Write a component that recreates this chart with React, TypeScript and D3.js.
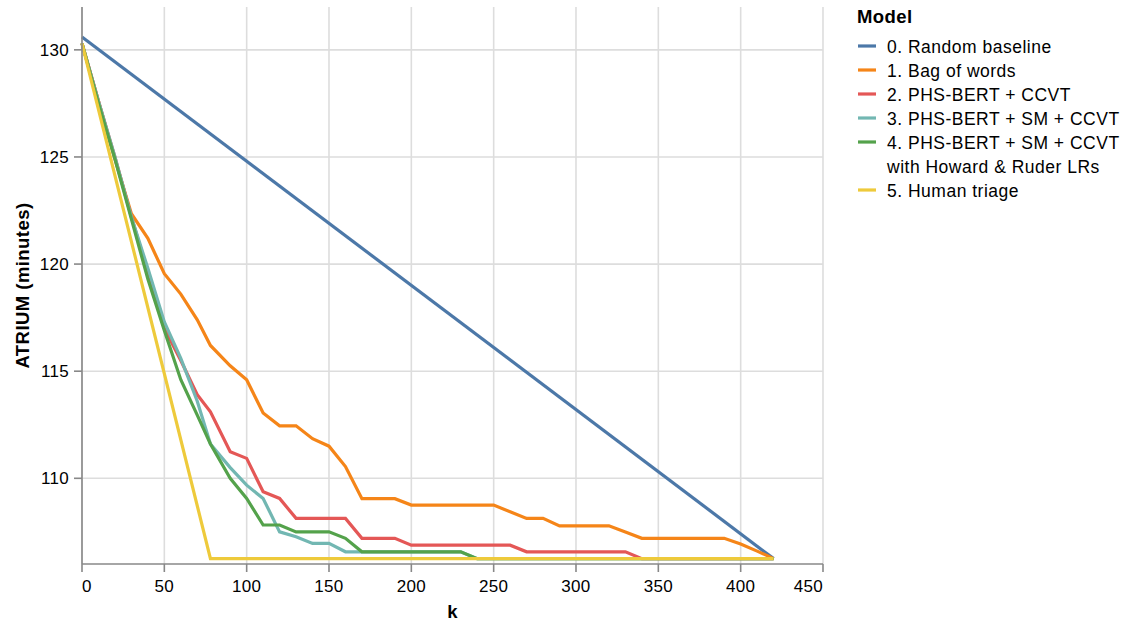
import React, { useEffect } from "react";
import * as d3 from "d3";

// ---------- data ----------
const seriesNames = [
  "0. Random baseline",
  "1. Bag of words",
  "2. PHS-BERT + CCVT",
  "3. PHS-BERT + SM + CCVT",
  "4. PHS-BERT + SM + CCVT",
  "5. Human triage",
];
const legendSecondLine = ["", "", "", "", "with Howard & Ruder LRs", ""];
const colors = ["#4c78a8", "#f58518", "#e45756", "#72b7b2", "#54a24b", "#eeca3b"];

const kBaseline = [0, 420];
const baseline = [130.6, 106.25];

const kHuman = [0, 78, 420];
const human = [130.3, 106.25, 106.25];

const kModels = [
  0, 10, 20, 30, 40, 50, 60, 70, 78, 90, 100, 110, 120, 130, 140, 150, 160, 170, 180, 190,
  200, 210, 220, 230, 240, 250, 260, 270, 280, 290, 300, 310, 320, 330, 340, 350, 360, 370,
  380, 390, 400, 410, 420,
];
const bagOfWords = [
  130.3, 127.6, 124.9, 122.35, 121.2, 119.55, 118.6, 117.4, 116.2, 115.25, 114.6, 113.05, 112.45,
  112.45, 111.85, 111.5, 110.55, 109.05, 109.05, 109.05, 108.75, 108.75, 108.75, 108.75, 108.75,
  108.75, 108.44, 108.13, 108.13, 107.78, 107.78, 107.78, 107.78, 107.49, 107.2, 107.2, 107.2,
  107.2, 107.2, 107.2, 106.93, 106.6, 106.25,
];
const phsCcvt = [
  130.3, 127.6, 125.0, 122.2, 119.6, 117.0, 115.5, 113.9, 113.1, 111.24, 110.93, 109.37, 109.06,
  108.13, 108.13, 108.13, 108.13, 107.2, 107.2, 107.2, 106.88, 106.88, 106.88, 106.88, 106.88,
  106.88, 106.88, 106.57, 106.57, 106.57, 106.57, 106.57, 106.57, 106.57, 106.25, 106.25, 106.25,
  106.25, 106.25, 106.25, 106.25, 106.25, 106.25,
];
const phsSmCcvt = [
  130.3, 127.6, 125.0, 122.2, 119.8, 117.3, 115.6, 113.6, 111.6, 110.5, 109.68, 109.06, 107.5,
  107.27, 106.96, 106.96, 106.57, 106.57, 106.57, 106.57, 106.57, 106.57, 106.57, 106.57, 106.25,
  106.25, 106.25, 106.25, 106.25, 106.25, 106.25, 106.25, 106.25, 106.25, 106.25, 106.25, 106.25,
  106.25, 106.25, 106.25, 106.25, 106.25, 106.25,
];
const phsSmCcvtHr = [
  130.3, 127.5, 124.9, 122.1, 119.3, 116.9, 114.6, 112.95, 111.6, 110.0, 109.06, 107.82, 107.82,
  107.5, 107.5, 107.5, 107.2, 106.57, 106.57, 106.57, 106.57, 106.57, 106.57, 106.57, 106.25,
  106.25, 106.25, 106.25, 106.25, 106.25, 106.25, 106.25, 106.25, 106.25, 106.25, 106.25, 106.25,
  106.25, 106.25, 106.25, 106.25, 106.25, 106.25,
];

const xTicks = [0, 50, 100, 150, 200, 250, 300, 350, 400, 450];
const yTicks = [110, 115, 120, 125, 130];

// ---------- layout ----------
const W = 1125;
const H = 623;
const left = 82;
const top = 7;
const plotW = 741;
const plotH = 557;
const font = "'Liberation Sans', Arial, Helvetica, sans-serif";

export default function App() {
  useEffect(() => {
    document.body.style.margin = "0";
  }, []);

  const x = d3.scaleLinear().domain([0, 450]).range([left, left + plotW]);
  const y = d3.scaleLinear().domain([106, 132]).range([top + plotH, top]);

  const series: [number[], number[]][] = [
    [kBaseline, baseline],
    [kModels, bagOfWords],
    [kModels, phsCcvt],
    [kModels, phsSmCcvt],
    [kModels, phsSmCcvtHr],
    [kHuman, human],
  ];

  const line = d3
    .line<[number, number]>()
    .x((d) => x(d[0]))
    .y((d) => y(d[1]));

  const bottom = top + plotH;
  const legendX = 858;
  const legendRowY = [46, 70, 94, 118, 142, 190];
  const xDomain = x.domain();

  const tickFont = { fontSize: 17, letterSpacing: 0.3 };
  const legendFont = { fontSize: 17.5, letterSpacing: 0.5 };
  const titleFont = { fontSize: 18.5, letterSpacing: 0.45, fontWeight: "bold" as const };

  return (
    <svg
      width={W}
      height={H}
      style={{ display: "block", position: "absolute", left: 0, top: 0, background: "#fff" }}
      fontFamily={font}
    >
      <rect x={0} y={0} width={W} height={H} fill="#fff" />
      {/* grid */}
      {xTicks.map((t) => (
        <line key={"gx" + t} x1={x(t)} x2={x(t)} y1={top} y2={bottom} stroke="#ddd" strokeWidth={1.6} />
      ))}
      {yTicks.map((t) => (
        <line key={"gy" + t} x1={left} x2={left + plotW} y1={y(t)} y2={y(t)} stroke="#ddd" strokeWidth={1.6} />
      ))}

      {/* lines */}
      {series.map(([ks, vs], i) => (
        <path
          key={"s" + i}
          d={line(ks.map((k, j) => [k, vs[j]] as [number, number])) || ""}
          fill="none"
          stroke={colors[i]}
          strokeWidth={3.2}
          strokeLinejoin="miter"
        />
      ))}

      {/* x axis */}
      <line x1={left} x2={left + plotW} y1={bottom} y2={bottom} stroke="#888" strokeWidth={1.6} />
      {xTicks.map((t) => (
        <g key={"xt" + t}>
          <line x1={x(t)} x2={x(t)} y1={bottom} y2={bottom + 8} stroke="#888" strokeWidth={1.6} />
          <text
            x={x(t)}
            y={591.5}
            textAnchor={t === xDomain[0] ? "start" : t === xDomain[1] ? "end" : "middle"}
            {...tickFont}
            fill="#000"
          >
            {t}
          </text>
        </g>
      ))}
      <text x={left + plotW / 2} y={618} textAnchor="middle" {...titleFont} fill="#000">
        k
      </text>

      {/* y axis */}
      <line x1={left} x2={left} y1={top} y2={bottom} stroke="#888" strokeWidth={1.6} />
      {yTicks.map((t) => (
        <g key={"yt" + t}>
          <line x1={left - 8} x2={left} y1={y(t)} y2={y(t)} stroke="#888" strokeWidth={1.6} />
          <text x={69} y={y(t)} dy="0.35em" textAnchor="end" {...tickFont} fill="#000">
            {t}
          </text>
        </g>
      ))}
      <text
        transform={`translate(29, ${top + plotH / 2}) rotate(-90)`}
        textAnchor="middle"
        {...titleFont}
        fill="#000"
      >
        ATRIUM (minutes)
      </text>

      {/* legend */}
      <text x={857} y={22.5} {...titleFont} fill="#000">
        Model
      </text>
      {seriesNames.map((name, i) => (
        <g key={"lg" + i}>
          <line
            x1={legendX}
            x2={legendX + 18}
            y1={legendRowY[i]}
            y2={legendRowY[i]}
            stroke={colors[i]}
            strokeWidth={3.2}
          />
          <text x={887} y={legendRowY[i] + 7} {...legendFont} fill="#000">
            {name}
          </text>
          {legendSecondLine[i] ? (
            <text x={887} y={legendRowY[i] + 31} {...legendFont} fill="#000">
              {legendSecondLine[i]}
            </text>
          ) : null}
        </g>
      ))}
    </svg>
  );
}
